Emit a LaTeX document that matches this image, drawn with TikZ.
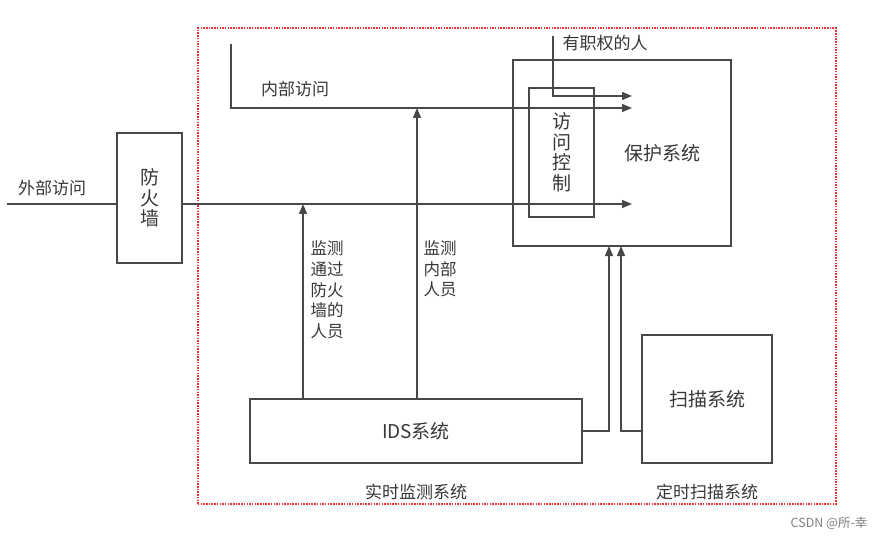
\documentclass[tikz,border=0pt]{standalone}
\usepackage{fontspec}
\setmainfont{Noto Sans CJK SC}
\usetikzlibrary{arrows.meta}
\definecolor{ln}{RGB}{72,72,72}
\definecolor{tx}{RGB}{55,55,55}
\definecolor{fr}{RGB}{240,50,50}
\begin{document}
\begin{tikzpicture}[x=1bp,y=-1bp,
  line width=1.3bp,
  box/.style={draw=ln,line width=1.4bp,inner sep=0pt,outer sep=0pt,text=tx,align=center},
  big/.style={font=\fontsize{19bp}{20.5bp}\selectfont},
  small/.style={font=\fontsize{16.5bp}{20.7bp}\selectfont,text=tx,inner sep=0pt},
  conn/.style={draw=ln,line width=1.3bp},
  arr/.style={conn,-{Triangle[length=10bp,width=8bp]}},
  frame/.style={draw=fr,line width=2bp,dash pattern=on 1.5bp off 1.2bp}
]
\useasboundingbox (0,0) rectangle (884,539);
% dotted frame
\node[frame,minimum width=638bp,minimum height=475bp,inner sep=0pt] (frm) at (517,266) {};
% boxes
\node[box,big,minimum width=65bp,minimum height=130bp] (fw) at (149.5,198) {防\\火\\墙};
\node[box,minimum width=218bp,minimum height=186bp] (prot) at (622,153) {};
\node[big,text=tx,inner sep=0pt] (protlbl) at (662,153) {保护系统};
\node[box,big,minimum width=65bp,minimum height=129bp] (ac) at (561.5,152.5) {访\\问\\控\\制};
\node[box,big,minimum width=332bp,minimum height=64bp] (ids) at (416,431) {IDS系统};
\node[box,big,minimum width=130bp,minimum height=128bp] (scan) at (707,399) {扫描系统};
% coordinates
\coordinate (ext) at (7,204);
\coordinate (tA) at (632,96);
\coordinate (tB) at (632,108);
\coordinate (tC) at (632,204);
\coordinate (intop) at (231,44);
\coordinate (authtop) at (553,36);
\coordinate (m1) at (303,204);
\coordinate (m2) at (417,108);
% connectors
\draw[conn] (ext) -- (fw.west |- ext);
\draw[arr] (fw.east |- ext) -- (tC);
\draw[arr] (intop) |- (tB);
\draw[arr] (authtop) |- (tA);
\draw[arr] (ids.north -| m1) -- (m1);
\draw[arr] (ids.north -| m2) -- (m2);
\draw[arr] (ids.east) -| ([xshift=-13bp]prot.south);
\draw[arr] (scan.west |- ids.east) -| ([xshift=-1bp]prot.south);
% labels
\node[small,font=\fontsize{17bp}{20bp}\selectfont] (extl) at (52,188) {外部访问};
\node[small,font=\fontsize{17bp}{20bp}\selectfont] (intl) at (295,89) {内部访问};
\node[small,font=\fontsize{17bp}{20bp}\selectfont] (authl) at (605,43) {有职权的人};
\node[small,anchor=west,align=left] (mon1) at (310,290) {监测\\通过\\防火\\墙的\\人员};
\node[small,anchor=west,align=left] (mon2) at (423,269) {监测\\内部\\人员};
\node[small,font=\fontsize{17bp}{20bp}\selectfont] (rtl) at (416,492) {实时监测系统};
\node[small,font=\fontsize{17bp}{20bp}\selectfont] (sched) at (707,492) {定时扫描系统};
\node[inner sep=0pt,text=gray,font=\fontsize{12.5bp}{14bp}\selectfont] (csdn) at (829,523) {CSDN @所-幸};
\end{tikzpicture}
\end{document}
